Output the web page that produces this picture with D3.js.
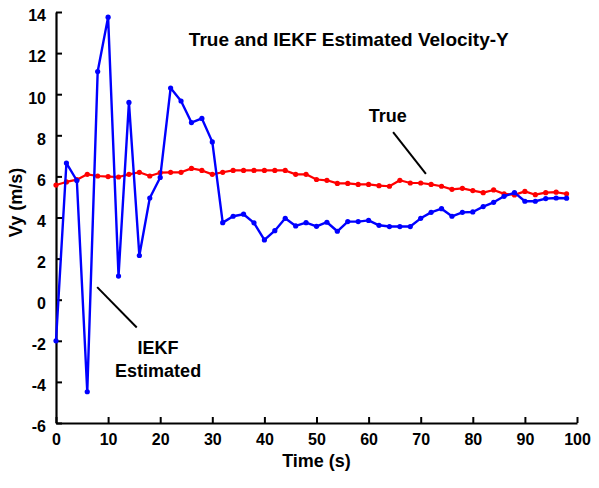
<!DOCTYPE html>
<html>
<head>
<meta charset="utf-8">
<script src="https://cdn.jsdelivr.net/npm/d3@7"></script>
<style>
  body { margin: 0; background: #fff; }
  svg { display: block; font-family: "Liberation Sans", Arial, sans-serif; font-weight: bold; }
</style>
</head>
<body>
<svg id="chart"></svg>
<script>
const width = 599;
const height = 488;
const margin = { top: 12, right: 22, bottom: 65, left: 56 };

// time samples (s)
const times = d3.range(0, 100, 2);

// true velocity-Y (m/s)
const trueVy = [
  5.58, 5.73, 5.84, 6.10, 6.02, 5.99, 5.97, 6.10, 6.20, 6.02,
  6.18, 6.20, 6.20, 6.39, 6.29, 6.10, 6.20, 6.29, 6.29, 6.29,
  6.29, 6.29, 6.29, 6.10, 6.10, 5.85, 5.81, 5.66, 5.66, 5.61,
  5.61, 5.55, 5.52, 5.81, 5.68, 5.68, 5.61, 5.52, 5.37, 5.42,
  5.31, 5.21, 5.34, 5.15, 5.10, 5.27, 5.11, 5.21, 5.23, 5.15
];

// IEKF estimated velocity-Y (m/s)
const iekfVy = [
  -2.00, 6.65, 5.80, -4.48, 11.10, 13.75, 1.15, 9.60, 2.15, 4.95,
  5.95, 10.30, 9.67, 8.62, 8.82, 7.68, 3.75, 4.06, 4.16, 3.74,
  2.91, 3.36, 3.96, 3.59, 3.75, 3.57, 3.77, 3.33, 3.80, 3.80,
  3.86, 3.62, 3.56, 3.56, 3.56, 3.96, 4.25, 4.43, 4.06, 4.25,
  4.27, 4.53, 4.74, 5.03, 5.21, 4.79, 4.79, 4.92, 4.95, 4.94
];

const xTicks = d3.range(0, 101, 10);
const yTicks = d3.range(-6, 15, 2);

const title = "True and IEKF Estimated Velocity-Y";
const xTitle = "Time (s)";
const yTitle = "Vy (m/s)";

// annotations in data units
const trueLabel = { t: 63.7, v: 8.64, text: "True" };
const trueLeader = [[64.7, 8.16], [71, 6.12]];
const iekfLabel = { t: 19.6, v: -2.63, lines: ["IEKF", "Estimated"] };
const iekfLeader = [[7.9, 0.61], [15.5, -1.35]];

const svg = d3.select("#chart")
  .attr("width", width)
  .attr("height", height);

const x = d3.scaleLinear()
  .domain([0, 100])
  .range([margin.left, width - margin.right]);

const y = d3.scaleLinear()
  .domain([-6, 14])
  .range([height - margin.bottom, margin.top]);

const xAxis = svg.append("g")
  .attr("transform", `translate(0,${y(-6)})`)
  .call(d3.axisBottom(x).tickValues(xTicks).tickFormat(d => String(d))
    .tickSizeInner(-6).tickSizeOuter(0).tickPadding(10));

const yAxis = svg.append("g")
  .attr("transform", `translate(${x(0)},0)`)
  .call(d3.axisLeft(y).tickValues(yTicks).tickFormat(d => String(d))
    .tickSizeInner(-6).tickSizeOuter(0).tickPadding(10));

[xAxis, yAxis].forEach(g => {
  g.select(".domain").attr("stroke", "#000").attr("stroke-width", 2.2);
  g.selectAll(".tick line").attr("stroke", "#000").attr("stroke-width", 2);
  g.selectAll(".tick text")
    .attr("fill", "#000")
    .style("font-size", "16px")
    .style("font-weight", "bold")
    .style("font-family", "'Liberation Sans', Arial, sans-serif");
});
yAxis.selectAll(".tick text").attr("dy", "0.55em");
xAxis.selectAll(".tick text").attr("dy", "0.72em");

const line = d3.line()
  .x((d, i) => x(times[i]))
  .y(d => y(d));

function drawSeries(values, color, lw) {
  svg.append("path")
    .datum(values)
    .attr("fill", "none")
    .attr("stroke", color)
    .attr("stroke-width", lw)
    .attr("stroke-linejoin", "round")
    .attr("d", line);

  svg.append("g")
    .selectAll("circle")
    .data(values)
    .join("circle")
    .attr("cx", (d, i) => x(times[i]))
    .attr("cy", d => y(d))
    .attr("r", 2.6)
    .attr("fill", color);
}

drawSeries(trueVy, "#ff0000", 2.2);
drawSeries(iekfVy, "#0000ff", 2.4);

// title
svg.append("text")
  .attr("x", x(56.2))
  .attr("y", y(12.34))
  .attr("text-anchor", "middle")
  .style("font-size", "19px")
  .text(title);

// leader lines
[trueLeader, iekfLeader].forEach(seg => {
  svg.append("line")
    .attr("x1", x(seg[0][0])).attr("y1", y(seg[0][1]))
    .attr("x2", x(seg[1][0])).attr("y2", y(seg[1][1]))
    .attr("stroke", "#000")
    .attr("stroke-width", 2);
});

svg.append("text")
  .attr("x", x(trueLabel.t))
  .attr("y", y(trueLabel.v))
  .attr("text-anchor", "middle")
  .style("font-size", "18px")
  .text(trueLabel.text);

svg.append("text")
  .attr("x", x(iekfLabel.t))
  .attr("y", y(iekfLabel.v))
  .attr("text-anchor", "middle")
  .style("font-size", "18px")
  .selectAll("tspan")
  .data(iekfLabel.lines)
  .join("tspan")
  .attr("x", x(iekfLabel.t))
  .attr("dy", (d, i) => i === 0 ? 0 : 23)
  .text(d => d);

// axis titles
svg.append("text")
  .attr("x", (x(0) + x(100)) / 2)
  .attr("y", height - 21)
  .attr("text-anchor", "middle")
  .style("font-size", "18px")
  .text(xTitle);

svg.append("text")
  .attr("transform", `translate(22,${(y(-6) + y(14)) / 2 - 15}) rotate(-90)`)
  .attr("text-anchor", "middle")
  .style("font-size", "18px")
  .text(yTitle);
</script>
</body>
</html>
